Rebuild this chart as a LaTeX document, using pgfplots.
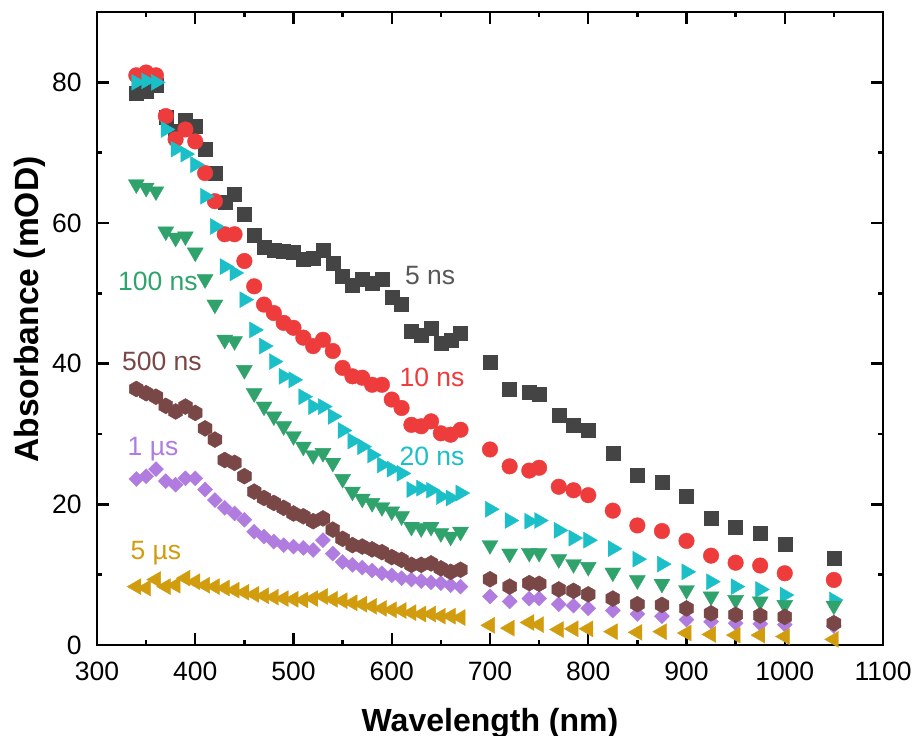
\documentclass[border=0pt]{standalone}
\usepackage{pgfplots}
\usepackage{pgfplotstable}
\pgfplotsset{compat=1.18}
\usepackage{fontspec}
\setmainfont{Liberation Sans}

\definecolor{cA}{HTML}{444444}
\definecolor{cB}{HTML}{EE3B3B}
\definecolor{cC}{HTML}{1BBFC8}
\definecolor{cD}{HTML}{2FA36B}
\definecolor{cE}{HTML}{7A4747}
\definecolor{cF}{HTML}{B07CE0}
\definecolor{cG}{HTML}{D19C0E}

% filled hexagon marker
\pgfdeclareplotmark{hexagon*}{%
  \pgfpathmoveto{\pgfqpointpolar{90}{\pgfplotmarksize}}%
  \pgfpathlineto{\pgfqpointpolar{150}{\pgfplotmarksize}}%
  \pgfpathlineto{\pgfqpointpolar{210}{\pgfplotmarksize}}%
  \pgfpathlineto{\pgfqpointpolar{270}{\pgfplotmarksize}}%
  \pgfpathlineto{\pgfqpointpolar{330}{\pgfplotmarksize}}%
  \pgfpathlineto{\pgfqpointpolar{30}{\pgfplotmarksize}}%
  \pgfpathclose
  \pgfusepathqfillstroke}

% transient absorption spectra at several delays (mOD)
\pgfplotstableread{
wl   t5ns t10ns t20ns t100ns t500ns t1us t5us
340  78.4 81.0  80.0  65.5   36.4   23.6 8.3
350  78.7 81.4  80.2  65.0   35.8   24.0 8.1
360  79.6 81.0  80.0  64.5   35.3   25.0 9.3
370  75.0 75.2  73.3  58.8   34.0   23.3 8.3
380  73.0 71.9  70.5  57.9   33.2   22.8 8.5
390  74.6 73.3  69.8  58.1   33.9   23.7 9.5
400  73.8 71.6  68.3  55.8   33.0   23.7 9.0
410  70.5 67.1  63.8  52.0   30.8   22.1 8.5
420  67.1 63.1  59.5  48.4   29.2   20.6 8.3
430  63.0 58.4  53.8  43.4   26.3   19.5 8.1
440  64.1 58.4  52.9  43.2   25.9   18.7 7.8
450  61.2 54.6  49.1  39.1   24.0   17.8 7.5
460  58.3 51.0  44.8  35.8   21.8   16.1 7.2
470  56.6 48.4  42.5  33.9   20.9   15.4 7.0
480  56.2 47.2  40.3  32.5   20.2   14.7 6.8
490  56.0 45.8  38.2  31.1   19.5   14.2 6.6
500  55.8 45.1  37.7  29.7   18.7   14.0 6.5
510  54.9 43.7  35.3  28.2   18.3   13.8 6.4
520  55.0 42.5  33.9  27.0   17.6   13.5 6.6
530  56.1 43.4  33.9  27.3   18.0   14.9 6.9
540  54.3 41.8  32.5  25.9   16.4   13.0 6.5
550  52.4 39.4  30.5  23.6   15.1   11.8 6.3
560  51.2 38.2  29.0  21.8   14.2   11.4 6.0
570  52.0 38.0  28.2  20.8   14.0   11.0 5.8
580  51.5 37.0  27.0  20.2   13.6   10.6 5.5
590  52.0 37.0  25.6  19.6   13.2   10.2 5.2
600  49.4 34.9  25.0  19.0   12.5   9.9  5.0
610  48.4 33.7  24.4  18.3   12.1   9.5  4.9
620  44.6 31.3  22.1  16.8   11.4   9.3  4.6
630  44.1 31.1  22.3  16.6   11.4   9.1  4.4
640  45.1 31.8  22.0  16.8   11.6   8.9  4.4
650  42.9 30.1  21.1  15.9   10.9   8.8  4.1
660  43.4 29.9  20.9  15.4   10.4   8.5  4.1
670  44.4 30.6  21.6  16.1   10.7   8.3  3.9
700  40.2 27.8  19.3  14.2   9.35   6.9  2.8
720  36.4 25.4  17.7  13.0   8.3    6.2  2.4
740  36.0 24.8  17.6  13.1   8.8    6.6  3.2
750  35.7 25.2  17.7  13.1   8.7    6.6  2.9
770  32.7 22.5  16.3  12.2   7.9    5.8  2.2
785  31.3 22.0  15.2  11.5   7.7    5.6  2.3
800  30.5 21.3  14.9  11.1   7.2    5.2  2.3
825  27.2 19.1  13.7  10.3   6.6    4.9  1.9
850  24.2 17.0  12.2  9.2    5.8    4.4  1.8
875  23.2 16.2  11.5  8.7    5.7    4.1  1.9
900  21.1 14.8  10.4  7.8    5.2    3.6  1.7
925  18.0 12.7  9.0   6.9    4.5    3.3  1.5
950  16.7 11.7  8.3   6.4    4.3    3.1  1.4
975  15.9 11.3  7.9   6.2    4.2    3.0  1.4
1000 14.3 10.2  7.1   5.7    4.0    2.9  1.2
1050 12.3 9.25  6.4   5.6    3.1    2.7  0.8
}\spectra

\begin{document}
\begin{tikzpicture}
\begin{axis}[
  scale only axis,
  width=393bp, height=316.5bp,
  xmin=300, xmax=1100, ymin=0, ymax=90,
  xtick={300,400,...,1100},
  minor xtick={350,450,...,1050},
  ytick={0,20,...,80},
  minor ytick={10,30,...,90},
  tick align=inside,
  major tick length=5.8bp,
  minor tick length=2.5bp,
  axis line style={line width=1.2bp},
  every tick/.append style={line width=1.2bp, black},
  scaled ticks=false,
  /pgf/number format/1000 sep={},
  /pgf/number format/assume math mode=true,
  tick label style={font=\fontsize{13.25bp}{15bp}\selectfont, inner sep=0pt},
  yticklabel style={xshift=-7.5bp},
  xticklabel style={yshift=-8.3bp},
  xlabel={Wavelength (nm)},
  ylabel={Absorbance (mOD)},
  xlabel style={font=\bfseries\fontsize{16bp}{19bp}\selectfont,
    at={(axis description cs:0.5,-0.1374)}, anchor=base},
  ylabel style={font=\bfseries\fontsize{16.8bp}{19bp}\selectfont,
    at={(axis description cs:-0.0852,0.53)}, anchor=center},
  clip=false,
]
\addplot[only marks, mark=square*, mark size=3.5bp,
  mark options={draw=cA, fill=cA, line width=0.2bp}] table[x=wl, y=t5ns] {\spectra};
\addplot[only marks, mark=*, mark size=3.9bp,
  mark options={draw=cB, fill=cB, line width=0.2bp}] table[x=wl, y=t10ns] {\spectra};
\addplot[only marks, mark=triangle*, mark size=4.6bp,
  mark options={rotate=-90, draw=cC, fill=cC, line width=0.2bp}] table[x=wl, y=t20ns] {\spectra};
\addplot[only marks, mark=triangle*, mark size=4.6bp,
  mark options={rotate=180, draw=cD, fill=cD, line width=0.2bp}] table[x=wl, y=t100ns] {\spectra};
\addplot[only marks, mark=square*, mark size=2.65bp,
  mark options={rotate=45, draw=cF, fill=cF, line width=0.2bp}] table[x=wl, y=t1us] {\spectra};
\addplot[only marks, mark=hexagon*, mark size=4bp,
  mark options={draw=cE, fill=cE, line width=0.2bp}] table[x=wl, y=t500ns] {\spectra};
\addplot[only marks, mark=triangle*, mark size=4.6bp,
  mark options={rotate=90, draw=cG, fill=cG, line width=0.2bp}] table[x=wl, y=t5us] {\spectra};

\begin{scope}[every node/.style={font=\fontsize{13.25bp}{15bp}\selectfont, inner sep=0pt}]
\node[text=cA!90] at (axis cs:639,52.5) {5 ns};
\node[text=cB] at (axis cs:641,38.0) {10 ns};
\node[text=cC] at (axis cs:641,26.8) {20 ns};
\node[text=cD] at (axis cs:362,51.7) {100 ns};
\node[text=cE] at (axis cs:366,40.3) {500 ns};
\node[text=cF] at (axis cs:357,27.9) {1 µs};
\node[text=cG] at (axis cs:360,13.1) {5 µs};
\end{scope}
\end{axis}
\pgfresetboundingbox
\path[use as bounding box] (-48.5bp,-45.5bp) rectangle (408.5bp,322.5bp);
\end{tikzpicture}
\end{document}
